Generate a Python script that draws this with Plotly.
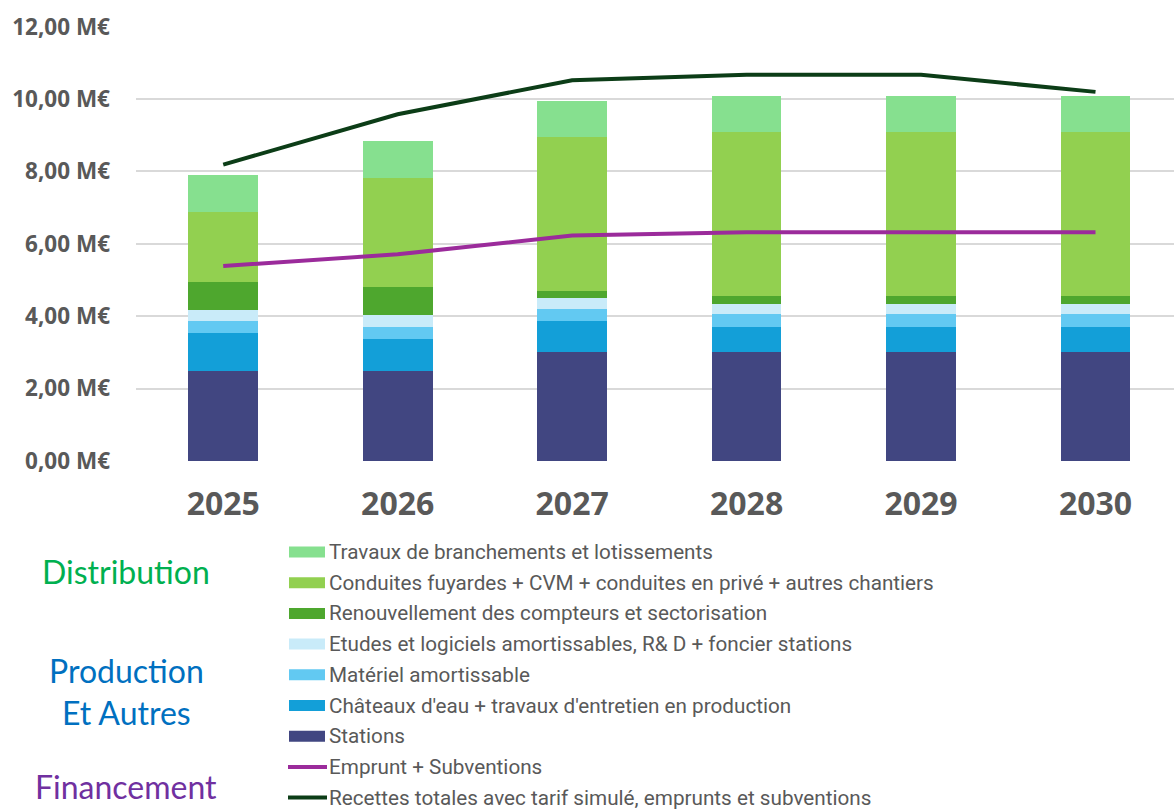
import plotly.graph_objects as go

# ---------------- data ----------------
years = ["2025", "2026", "2027", "2028", "2029", "2030"]

stations = [2.50, 2.50, 3.00, 3.00, 3.00, 3.00]
chateaux = [1.04, 0.88, 0.86, 0.70, 0.70, 0.70]
materiel = [0.33, 0.32, 0.33, 0.36, 0.36, 0.36]
etudes = [0.29, 0.33, 0.32, 0.29, 0.29, 0.29]
renouvellement = [0.79, 0.77, 0.19, 0.22, 0.22, 0.22]
conduites = [1.93, 3.02, 4.24, 4.53, 4.53, 4.53]
travaux = [1.02, 1.02, 1.00, 0.99, 0.99, 0.99]

emprunt = [5.39, 5.71, 6.23, 6.32, 6.32, 6.32]
recettes = [8.19, 9.58, 10.52, 10.67, 10.67, 10.20]

y_ticks = [0, 2, 4, 6, 8, 10, 12]
y_tick_labels = ["0,00 M€", "2,00 M€", "4,00 M€", "6,00 M€", "8,00 M€", "10,00 M€", "12,00 M€"]

bar_names = [
    "Stations",
    "Châteaux d'eau + travaux d'entretien en production",
    "Matériel amortissable",
    "Etudes et logiciels amortissables, R& D + foncier stations",
    "Renouvellement des compteurs et sectorisation",
    "Conduites fuyardes + CVM + conduites en privé + autres chantiers",
    "Travaux de branchements et lotissements",
]
bar_values = [stations, chateaux, materiel, etudes, renouvellement, conduites, travaux]
bar_colors = ["#414681", "#139FD8", "#62C9F2", "#C9EBF9", "#4EA72E", "#92D050", "#86E08F"]

line_names = ["Emprunt + Subventions",
              "Recettes totales avec tarif simulé, emprunts et subventions"]
line_values = [emprunt, recettes]
line_colors = ["#9B2B9B", "#0C3D17"]

group_labels = ["Distribution", "Production", "Et Autres", "Financement"]
group_colors = ["#00B050", "#0070C0", "#0070C0", "#7030A0"]

# ---------------- figure ----------------
W, H = 1174, 809
ML, MR, MT, MB = 136, 0, 26, 348
PW, PH = W - ML - MR, H - MT - MB

def px_x(px):
    return (px - ML) / PW

def px_y(py):
    return (H - MB - py) / PH

TXT = "#595959"
fig = go.Figure()

for name, vals, col in zip(bar_names, bar_values, bar_colors):
    fig.add_trace(go.Bar(x=years, y=vals, name=name, marker=dict(color=col, line=dict(width=0)),
                         showlegend=False))

for name, vals, col in zip(line_names, line_values, line_colors):
    fig.add_trace(go.Scatter(x=years, y=vals, name=name, mode="lines",
                             line=dict(color=col, width=4), showlegend=False))

# ---------------- manual legend ----------------
legend_names = bar_names[::-1] + line_names
legend_colors = bar_colors[::-1] + line_colors
legend_kinds = ["bar"] * len(bar_names) + ["line"] * len(line_names)
shapes = []
annotations = []
y0, dy = 552, 30.7
for i, (nm, col, kind) in enumerate(zip(legend_names, legend_colors, legend_kinds)):
    yc = y0 + i * dy
    if kind == "bar":
        shapes.append(dict(type="rect", xref="paper", yref="paper",
                           x0=px_x(289), x1=px_x(325), y0=px_y(yc + 5.5), y1=px_y(yc - 5.5),
                           fillcolor=col, line=dict(width=0)))
    else:
        shapes.append(dict(type="line", xref="paper", yref="paper",
                           x0=px_x(288), x1=px_x(327), y0=px_y(yc), y1=px_y(yc),
                           line=dict(color=col, width=4)))
    annotations.append(dict(text=nm, xref="paper", yref="paper", x=px_x(327), y=px_y(yc),
                            xanchor="left", yanchor="middle", showarrow=False,
                            font=dict(family="Roboto", size=20.7, color=TXT)))

group_y = [571, 670, 712, 786]
for lab, col, gy in zip(group_labels, group_colors, group_y):
    annotations.append(dict(text=lab, xref="paper", yref="paper", x=px_x(126), y=px_y(gy),
                            xanchor="center", yanchor="middle", showarrow=False,
                            font=dict(family="Lato", size=32, color=col)))

fig.update_layout(
    width=W, height=H,
    margin=dict(l=ML, r=MR, t=MT, b=MB, pad=0),
    paper_bgcolor="white", plot_bgcolor="white",
    barmode="stack", bargap=0.6,
    shapes=shapes, annotations=annotations,
    showlegend=False,
    xaxis=dict(type="category", range=[-0.5, 5.45], showgrid=False, zeroline=False,
               showline=False, ticks="", ticklabelstandoff=21,
               tickfont=dict(family="Open Sans", size=32, color=TXT, weight="bold")),
    yaxis=dict(range=[0, 12.02], tickmode="array", tickvals=y_ticks, ticktext=y_tick_labels,
               showgrid=True, gridcolor="#D9D9D9", gridwidth=1.5, zeroline=False,
               showline=False, ticks="", ticklabelstandoff=25,
               tickfont=dict(family="Open Sans", size=22.5, color=TXT, weight="bold")),
)

fig.write_html("out.html", config={"displayModeBar": False},
               post_script="document.body.style.margin='0';document.body.style.overflow='hidden';")
